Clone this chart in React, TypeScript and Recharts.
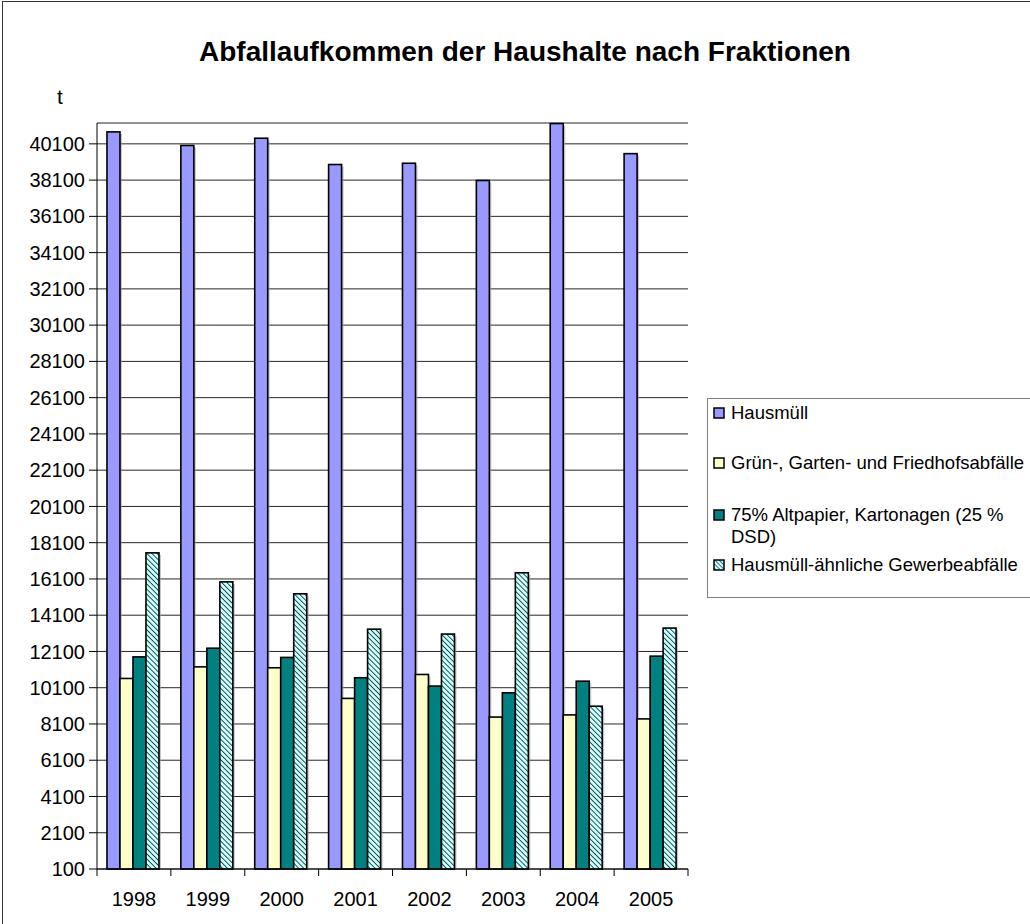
import React from "react";
import { BarChart, Bar, XAxis, YAxis, CartesianGrid } from "recharts";

const years = ["1998", "1999", "2000", "2001", "2002", "2003", "2004", "2005"];
const hausmuell = [40760, 40010, 40410, 38960, 39030, 38080, 41220, 39560];
const gruen = [10610, 11250, 11200, 9510, 10830, 8480, 8600, 8380];
const altpapier = [11800, 12280, 11770, 10650, 10190, 9820, 10460, 11840];
const gewerbe = [17540, 15940, 15280, 13330, 13060, 16440, 9080, 13390];
const yTicks = [100, 2100, 4100, 6100, 8100, 10100, 12100, 14100, 16100, 18100, 20100, 22100, 24100, 26100, 28100, 30100, 32100, 34100, 36100, 38100, 40100];

const FONT = "Arial, 'Liberation Sans', sans-serif";

const series = [
  { key: "hausmuell", name: "Hausmüll", fill: "#9999FF" },
  { key: "gruen", name: "Grün-, Garten- und Friedhofsabfälle", fill: "#FFFFCC" },
  { key: "altpapier", name: "75% Altpapier, Kartonagen (25 % DSD)", fill: "#008080" },
  { key: "gewerbe", name: "Hausmüll-ähnliche Gewerbeabfälle", fill: "url(#hatch)" },
];

const data = years.map((year, i) => ({
  year,
  hausmuell: hausmuell[i],
  gruen: gruen[i],
  altpapier: altpapier[i],
  gewerbe: gewerbe[i],
}));

// chart geometry
const CHART_W = 700;
const CHART_H = 924;
const margin = { top: 123, right: 12, left: 7, bottom: 15 };
const Y_W = 90;
const X_H = 40;
const bandW = (CHART_W - margin.left - margin.right - Y_W) / years.length;

const XTick = (props: any) => {
  const { x, y, payload, index } = props;
  return (
    <g>
      <line x1={x - bandW / 2} y1={y} x2={x - bandW / 2} y2={y + 7} stroke="#000" />
      {index === years.length - 1 && (
        <line x1={x + bandW / 2} y1={y} x2={x + bandW / 2} y2={y + 7} stroke="#000" />
      )}
      <text x={x} y={y + 37} textAnchor="middle" fontSize={20} fill="#000" fontFamily={FONT}>
        {payload.value}
      </text>
    </g>
  );
};

// bar with a soft grey drop shadow like the spreadsheet export
const ShadowBar = (props: any) => {
  const { x, y, width, height, fill } = props;
  if (!height || height <= 0) return null;
  return (
    <g>
      <rect x={x + 2} y={y + 2} width={width} height={height - 2} fill="#A0A0A0" opacity={0.6} />
      <rect x={x} y={y} width={width} height={height} fill={fill} stroke="#000" strokeWidth={1.6} />
    </g>
  );
};

function Swatch({ fill }: { fill: string }) {
  return (
    <svg width={12} height={12} style={{ flexShrink: 0, marginTop: 5 }}>
      <defs>
        <pattern id="hatchSmall" width="3" height="3" patternUnits="userSpaceOnUse" patternTransform="rotate(-45)">
          <rect width="3" height="3" fill="#CCFFFF" />
          <line x1="0" y1="0" x2="0" y2="3" stroke="#0D3535" strokeWidth="1.4" />
        </pattern>
      </defs>
      <rect x={1} y={1} width={10} height={10} fill={fill === "url(#hatch)" ? "url(#hatchSmall)" : fill} stroke="#000" strokeWidth={1.5} />
    </svg>
  );
}

export default function App() {
  return (
    <div style={{ position: "relative", width: 1030, height: 924, overflow: "hidden", background: "#fff", fontFamily: FONT }}>
      <style>{`body{margin:0}`}</style>
      <div style={{ position: "absolute", left: 2, top: 1, width: 1040, height: 940, border: "1px solid #333" }} />
      <div style={{ position: "absolute", left: 0, width: 1050, top: 36, textAlign: "center", fontSize: 28, fontWeight: "bold" }}>
        Abfallaufkommen der Haushalte nach Fraktionen
      </div>
      <div style={{ position: "absolute", left: 57, top: 85, fontSize: 21 }}>t</div>
      <div style={{ position: "absolute", left: 0, top: 0 }}>
        <BarChart width={CHART_W} height={CHART_H} data={data} margin={margin} barCategoryGap="13.5%" barGap={0}>
          <defs>
            <pattern id="hatch" width="3.6" height="3.6" patternUnits="userSpaceOnUse" patternTransform="rotate(-45)">
              <rect width="3.6" height="3.6" fill="#CCFFFF" />
              <line x1="0" y1="0" x2="0" y2="3.6" stroke="#0D3535" strokeWidth="1.7" />
            </pattern>
          </defs>
          <CartesianGrid vertical={false} stroke="#000" strokeOpacity={0.85} />
          <XAxis
            dataKey="year"
            height={X_H}
            axisLine={{ stroke: "#000" }}
            tickLine={false}
            tickSize={0}
            tickMargin={0}
            tick={<XTick />}
            interval={0}
          />
          <YAxis
            width={Y_W}
            domain={[100, 41250]}
            ticks={yTicks}
            interval={0}
            axisLine={{ stroke: "#000" }}
            tickLine={{ stroke: "#000" }}
            tickSize={8}
            tickMargin={4}
            tick={{ fontSize: 20, fill: "#000", fontFamily: FONT }}
          />
          {series.map((s) => (
            <Bar key={s.key} dataKey={s.key} name={s.name} fill={s.fill} shape={<ShadowBar />} isAnimationActive={false} />
          ))}
        </BarChart>
      </div>
      <div style={{ position: "absolute", left: 707, top: 398, width: 360, height: 200, border: "1px solid #808080", boxSizing: "border-box" }}>
        {series.map((s, i) => (
          <div key={s.key} style={{ position: "absolute", left: 5, top: [3, 53, 105, 155][i], display: "flex", gap: 6, width: 328, fontSize: 18.5, lineHeight: "22px" }}>
            <Swatch fill={s.fill} />
            <span>{s.name}</span>
          </div>
        ))}
      </div>
    </div>
  );
}
